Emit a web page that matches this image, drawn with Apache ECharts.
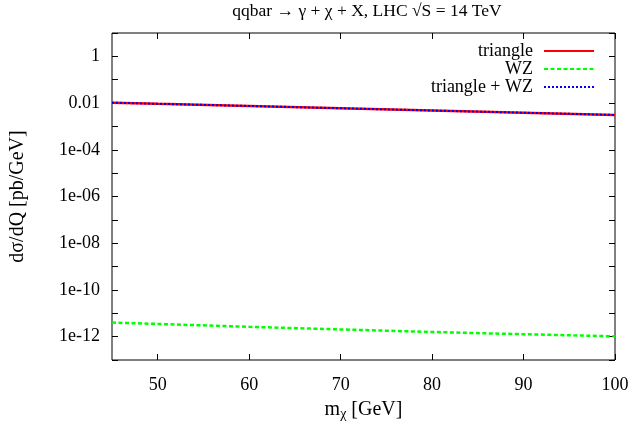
<!DOCTYPE html>
<html>
<head>
<meta charset="utf-8">
<script src="https://cdn.jsdelivr.net/npm/echarts@6/dist/echarts.min.js"></script>
<style>
html,body{margin:0;padding:0;background:#fff;}
#chart{width:632px;height:426px;}
</style>
</head>
<body>
<div id="chart"></div>
<script>
// Data
const mChi = [45, 50, 60, 70, 80, 90, 100];
const triangle = [0.0104, 0.0093, 0.0075, 0.0060, 0.0048, 0.00386, 0.0031];
const wz = [4.0e-12, 3.5e-12, 2.63e-12, 2.04e-12, 1.58e-12, 1.27e-12, 1.03e-12];
const triangleWZ = [0.0104, 0.0093, 0.0075, 0.0060, 0.0048, 0.00386, 0.0031];
const xTicks = [50, 60, 70, 80, 90, 100];
const seriesNames = ['triangle', 'WZ', 'triangle + WZ'];

const FONT = '"Liberation Serif", "DejaVu Serif", serif';
const FS = 18;

function pairs(xs, ys) { return xs.map((x, i) => [x, ys[i]]); }
function yLabel(v) {
  const e = Math.round(Math.log10(v));
  if (e % 2 !== 0) return '';
  if (e === 0) return '1';
  if (e === -2) return '0.01';
  if (e > 0) return '';
  const n = -e;
  return '1e-' + (n < 10 ? '0' + n : '' + n);
}

const chart = echarts.init(document.getElementById('chart'), null, {renderer: 'canvas'});
const tickStyle = {color: '#000', width: 1};
chart.setOption({
  animation: false,
  backgroundColor: '#fff',
  title: {
    text: 'qqbar \u2192 \u03b3 + \u03c7 + X, LHC \u221aS = 14 TeV',
    left: 362, top: -3, textAlign: 'center',
    textStyle: {fontFamily: FONT, fontSize: 17.5, fontWeight: 'normal', color: '#000'}
  },
  legend: {
    data: seriesNames,
    right: 32, top: 37, orient: 'vertical', align: 'right',
    itemWidth: 50, itemHeight: 14, itemGap: 0,
    itemStyle: {opacity: 0},
    textStyle: {fontFamily: FONT, fontSize: FS, color: '#000', padding: [0, 6, 0, 0]}
  },
  grid: {left: 112, right: 17, top: 33, bottom: 63, show: true, borderColor: '#000', borderWidth: 1, containLabel: false},
  xAxis: [{
    type: 'value', min: 45, max: 100,
    name: '{m|m}{s|\u03c7}{m| [GeV]}', nameLocation: 'middle', nameGap: 38,
    nameTextStyle: {rich: {
      m: {fontFamily: FONT, fontSize: 20, color: '#000'},
      s: {fontFamily: FONT, fontSize: 14, color: '#000', verticalAlign: 'bottom', padding: [9, 0, 0, 0]}
    }},
    axisLine: {show: false},
    axisTick: {show: true, inside: true, length: 6, lineStyle: tickStyle, customValues: xTicks},
    axisLabel: {show: true, customValues: xTicks, margin: 16, fontFamily: FONT, fontSize: FS, color: '#000'},
    splitLine: {show: false}
  }, {
    type: 'value', min: 45, max: 100, position: 'top',
    axisLine: {show: false},
    axisTick: {show: true, inside: true, length: 6, lineStyle: tickStyle, customValues: xTicks},
    axisLabel: {show: false},
    splitLine: {show: false}
  }],
  yAxis: [{
    type: 'log', logBase: 10, min: 1e-13, max: 10, interval: 1,
    name: 'd\u03c3/dQ [pb/GeV]', nameLocation: 'middle', nameGap: 84,
    nameTextStyle: {fontFamily: FONT, fontSize: 20, color: '#000'},
    axisLine: {show: false},
    axisTick: {show: true, inside: true, length: 6, lineStyle: tickStyle},
    axisLabel: {show: true, margin: 12, padding: [6, 0, 0, 0], fontFamily: FONT, fontSize: FS, color: '#000', formatter: yLabel},
    splitLine: {show: false}
  }, {
    type: 'log', logBase: 10, min: 1e-13, max: 10, interval: 1, position: 'right',
    axisLine: {show: false},
    axisTick: {show: true, inside: true, length: 6, lineStyle: tickStyle},
    axisLabel: {show: false},
    splitLine: {show: false}
  }],
  series: [
    {name: seriesNames[0], type: 'line', data: pairs(mChi, triangle), showSymbol: false, symbol: 'none',
     color: '#ff0000', lineStyle: {color: '#ff0000', width: 2.5}},
    {name: seriesNames[1], type: 'line', data: pairs(mChi, wz), showSymbol: false, symbol: 'none',
     color: '#00ff00', lineStyle: {color: '#00ff00', width: 2.5, type: [4, 2.5]}},
    {name: seriesNames[2], type: 'line', data: pairs(mChi, triangleWZ), showSymbol: false, symbol: 'none',
     color: '#0000ff', lineStyle: {color: '#0000ff', width: 2, type: [2, 2]}}
  ]
});
</script>
</body>
</html>
